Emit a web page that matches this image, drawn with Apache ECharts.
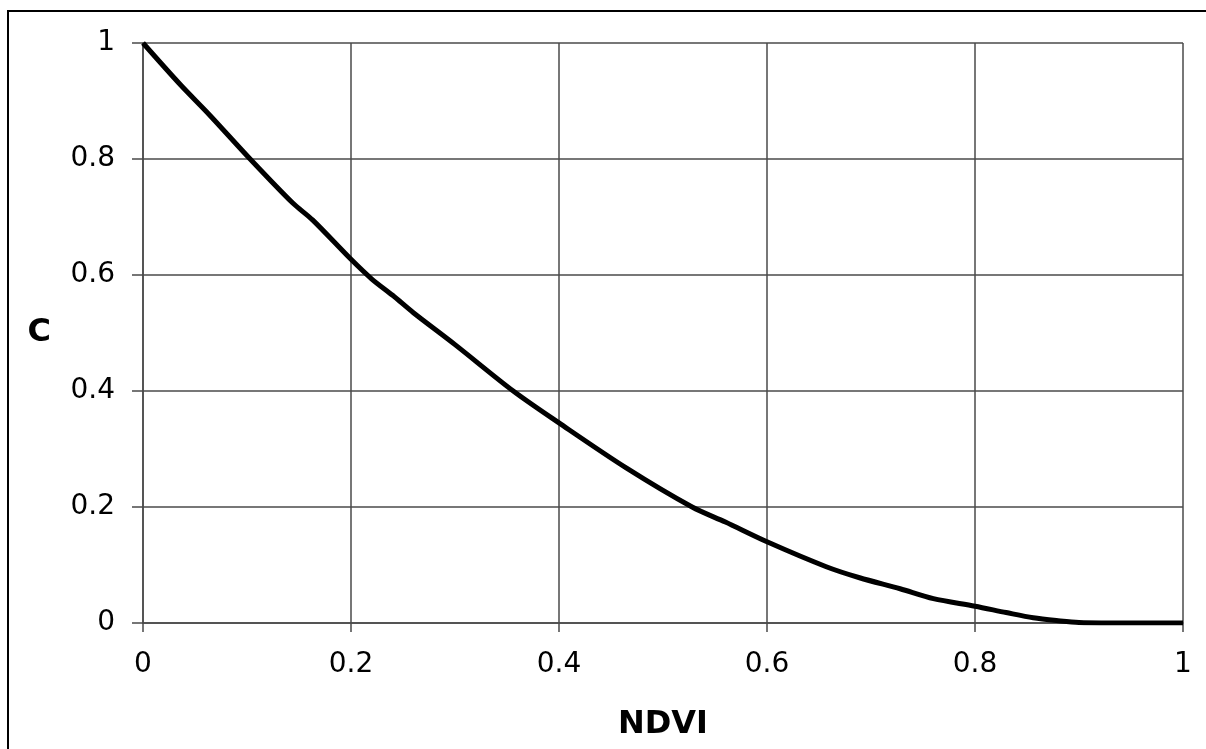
<!DOCTYPE html>
<html>
<head>
<meta charset="utf-8">
<script src="https://cdn.jsdelivr.net/npm/echarts@6/dist/echarts.min.js"></script>
<style>
  html, body { margin: 0; padding: 0; background: #fff; }
  #chartsDiv { width: 1206px; height: 749px; }
</style>
</head>
<body>
<div id="chartsDiv"></div>
<script>
// values
var ndvi = [0, 0.036, 0.064, 0.103, 0.144, 0.163, 0.2, 0.22, 0.24, 0.26, 0.3, 0.356, 0.4, 0.465, 0.528, 0.56, 0.6, 0.657, 0.689, 0.728, 0.76, 0.8, 0.83, 0.856, 0.88, 0.9, 0.95, 1];
var cValues = [1, 0.928, 0.876, 0.8, 0.724, 0.695, 0.627, 0.593, 0.565, 0.535, 0.48, 0.4, 0.345, 0.267, 0.2, 0.174, 0.14, 0.097, 0.078, 0.059, 0.042, 0.029, 0.018, 0.009, 0.004, 0.001, 0, 0];
var xTicks = [0, 0.2, 0.4, 0.6, 0.8, 1];
var yTicks = [0, 0.2, 0.4, 0.6, 0.8, 1];

var chart = echarts.init(document.getElementById('chartsDiv'));

var gridColor = '#4a4a4a';
var labelFont = 'DejaVu Sans';

var option = {
  animation: false,
  backgroundColor: '#fff',
  graphic: [{
    type: 'rect',
    shape: { x: 8, y: 11, width: 1300, height: 800 },
    style: { fill: 'none', stroke: '#000', lineWidth: 2 },
    z: 100
  }],
  grid: {
    left: 143,
    right: 23,
    top: 43,
    bottom: 126,
    containLabel: false,
    outerBoundsMode: 'none'
  },
  xAxis: {
    type: 'value',
    min: 0,
    max: 1,
    interval: 0.2,
    name: 'NDVI',
    nameLocation: 'middle',
    nameGap: 86,
    nameTextStyle: {
      color: '#000',
      fontFamily: labelFont,
      fontWeight: 'bold',
      fontSize: 32
    },
    axisLine: { lineStyle: { color: gridColor, width: 1.5 } },
    axisTick: { show: true, length: 9, lineStyle: { color: gridColor, width: 1.5 } },
    axisLabel: {
      color: '#000',
      fontFamily: labelFont,
      fontSize: 28,
      margin: 28,
      formatter: function (v) {
        return xTicks.indexOf(+v.toFixed(1)) >= 0 ? String(+v.toFixed(1)) : '';
      }
    },
    splitLine: { show: true, lineStyle: { color: gridColor, width: 1.5 } }
  },
  yAxis: {
    type: 'value',
    min: 0,
    max: 1,
    interval: 0.2,
    name: 'C',
    nameLocation: 'middle',
    nameRotate: 0,
    nameGap: 92,
    nameTextStyle: {
      color: '#000',
      fontFamily: labelFont,
      fontWeight: 'bold',
      fontSize: 32
    },
    axisLine: { show: true, lineStyle: { color: gridColor, width: 1.5 } },
    axisTick: { show: true, length: 11, lineStyle: { color: gridColor, width: 1.5 } },
    axisLabel: {
      color: '#000',
      fontFamily: labelFont,
      fontSize: 28,
      margin: 28,
      formatter: function (v) {
        return yTicks.indexOf(+v.toFixed(1)) >= 0 ? String(+v.toFixed(1)) : '';
      }
    },
    splitLine: { show: true, lineStyle: { color: gridColor, width: 1.5 } }
  },
  series: [{
    type: 'line',
    smooth: 0.3,
    showSymbol: false,
    lineStyle: { color: '#000', width: 5 },
    data: ndvi.map(function (x, i) { return [x, cValues[i]]; })
  }]
};

chart.setOption(option);
</script>
</body>
</html>
